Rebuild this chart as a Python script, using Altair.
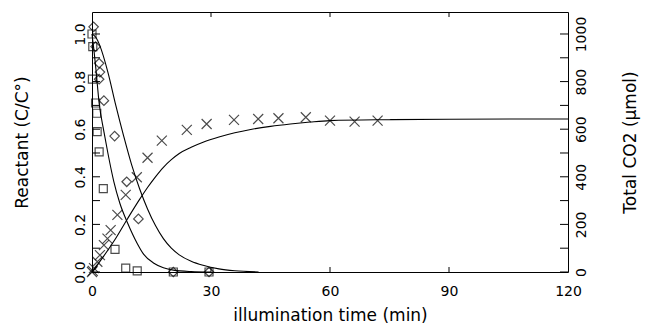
import altair as alt
import pandas as pd

# ---------------- data ----------------
# Reactant 1 (open squares), C/C0
sq_t = [0.0, 0.2, 0.1, 0.9, 1.2, 1.3, 1.8, 2.85, 5.8, 8.5, 11.4, 20.5, 29.5]
sq_v = [1.0, 0.947, 0.81, 0.71, 0.667, 0.59, 0.505, 0.35, 0.095, 0.016, 0.005, 0.0, 0.0]

# Reactant 2 (open diamonds), C/C0
di_t = [0.4, 0.9, 1.8, 2.0, 1.8, 3.0, 5.7, 8.75, 11.7, 20.5, 29.5]
di_v = [1.03, 0.947, 0.877, 0.84, 0.81, 0.72, 0.571, 0.379, 0.223, 0.0, 0.0]

# Total CO2 (crosses), umol
co_t = [0.0, 0.2, 0.5, 1.35, 2.0, 3.0, 3.9, 4.7, 6.4, 8.5, 11.3, 14.0, 17.6, 23.9,
        28.9, 35.8, 41.9, 47.0, 53.9, 60.0, 66.2, 72.0]
co_v = [0, 5, 16, 43, 71, 113, 140, 176, 240, 324, 398, 480, 552, 597,
        622, 639, 643, 646, 650, 636, 632, 636]

# model curves
fa_t = [0, 0.5, 1, 1.8, 3, 4, 5.5, 7, 9, 11.4, 13, 15.6, 18, 20.5, 25, 30]
fa_v = [1.0, 0.93, 0.85, 0.71, 0.59, 0.5, 0.38, 0.29, 0.205, 0.12, 0.075, 0.037,
        0.018, 0.008, 0.002, 0.0]

fb_t = [0, 1, 2, 4, 6, 8, 10, 12, 14, 16, 18, 20, 22, 25, 28, 32, 36, 42]
fb_v = [1.0, 0.985, 0.95, 0.84, 0.70, 0.57, 0.45, 0.35, 0.265, 0.195, 0.14, 0.10,
        0.072, 0.045, 0.028, 0.013, 0.005, 0.0]

fc_t = [0, 3, 6, 9, 12, 14, 16, 18, 20, 22, 25, 28, 32, 36, 40, 45, 50, 55,
        60, 75, 90, 120]
fc_v = [0, 68, 142, 225, 305, 355, 400, 440, 472, 498, 524, 545, 567, 585, 599, 612,
        622, 630, 636, 640, 642, 643]

# axis tick values
x_labels = [0, 30, 60, 90, 120]
x_inner_ticks = [30, 60, 90]
yl_labels = [0.0, 0.2, 0.4, 0.6, 0.8, 1.0]
yl_ticks = [0.0, 0.1, 0.2, 0.3, 0.4, 0.5, 0.6, 0.7, 0.8, 0.9, 1.0]
yr_labels = [0, 200, 400, 600, 800, 1000]
yr_ticks = [0, 100, 200, 300, 400, 500, 600, 700, 800, 900, 1000]

# ---------------- chart ----------------
W, H = 476, 260
FONT = "DejaVu Sans"

x_scale = alt.Scale(domain=[0, 120], nice=False, zero=False)
yl_scale = alt.Scale(domain=[0, 1.0924], nice=False)
yr_scale = alt.Scale(domain=[0, 1092.4], nice=False)

common = dict(grid=False, domain=False, ticks=False, labelFont=FONT, titleFont=FONT,
              labelColor="black", titleColor="black", labelFontSize=14,
              titleFontSize=17, titleFontWeight="normal", labelFlush=False)

x_axis = alt.Axis(values=x_labels, title="illumination time (min)", labelPadding=12,
                  titleY=43, titleBaseline="middle", titleAlign="center", **common)
yl_axis = alt.Axis(values=yl_labels, format=".1f", title="Reactant (C/C°)",
                   labelAngle=270, labelPadding=5, titleX=-70, titleY=H / 2,
                   titleAngle=270, titleAlign="center", titleBaseline="middle", **common)
yr_axis = alt.Axis(values=yr_labels, format="d", title="Total CO2 (μmol)", orient="right",
                   labelAngle=270, labelPadding=6, titleX=62, titleY=H / 2,
                   titleAngle=270, titleAlign="center", titleBaseline="middle", **common)

X = alt.X("t:Q", scale=x_scale, axis=x_axis)
YL = alt.Y("v:Q", scale=yl_scale, axis=yl_axis)
YR = alt.Y("v:Q", scale=yr_scale, axis=yr_axis)

sq_df = pd.DataFrame({"t": sq_t, "v": sq_v})
di_df = pd.DataFrame({"t": di_t, "v": di_v})
co_df = pd.DataFrame({"t": co_t, "v": co_v})
fa_df = pd.DataFrame({"t": fa_t, "v": fa_v})
fb_df = pd.DataFrame({"t": fb_t, "v": fb_v})
fc_df = pd.DataFrame({"t": fc_t, "v": fc_v})

line_kw = dict(color="black", strokeWidth=1.1, interpolate="monotone")

squares = alt.Chart(sq_df).mark_point(shape="square", filled=False, size=64,
                                      stroke="black", strokeWidth=1.2).encode(x=X, y=YL)
diamonds = alt.Chart(di_df).mark_point(shape="diamond", filled=False, size=90,
                                       stroke="black", strokeWidth=1.2).encode(x=X, y=YL)
curve_a = alt.Chart(fa_df).mark_line(**line_kw).encode(x=X, y=YL)
curve_b = alt.Chart(fb_df).mark_line(**line_kw).encode(x=X, y=YL)
left_ticks = alt.Chart(pd.DataFrame({"v": yl_ticks})).mark_rule(
    color="black", strokeWidth=1).encode(y=YL, x=alt.value(0), x2=alt.value(8))
xt_df = pd.DataFrame({"t": x_inner_ticks})
top_ticks = alt.Chart(xt_df).mark_rule(color="black", strokeWidth=1).encode(
    x=X, y=alt.value(0), y2=alt.value(5))
bot_ticks = alt.Chart(xt_df).mark_rule(color="black", strokeWidth=1).encode(
    x=X, y=alt.value(H - 5), y2=alt.value(H))

crosses = alt.Chart(co_df).mark_point(shape="M-1,-1L1,1M-1,1L1,-1", filled=False, size=100,
                                      stroke="black", strokeWidth=1.2).encode(x=X, y=YR)
curve_c = alt.Chart(fc_df).mark_line(**line_kw).encode(x=X, y=YR)
right_ticks = alt.Chart(pd.DataFrame({"v": yr_ticks})).mark_rule(
    color="black", strokeWidth=1).encode(y=YR, x=alt.value(W - 8), x2=alt.value(W))

left = alt.layer(curve_a, curve_b, squares, diamonds, left_ticks, top_ticks, bot_ticks)
right = alt.layer(curve_c, crosses, right_ticks)

chart = alt.layer(left, right).resolve_scale(y="independent").properties(
    width=W, height=H,
    autosize=alt.AutoSizeParams(type="none"),
    padding={"left": 84, "top": 4, "right": 73, "bottom": 54},
    background="white",
).configure_view(stroke="black", strokeWidth=1)

chart.save("out.html", embed_options={"renderer": "svg", "actions": False})
